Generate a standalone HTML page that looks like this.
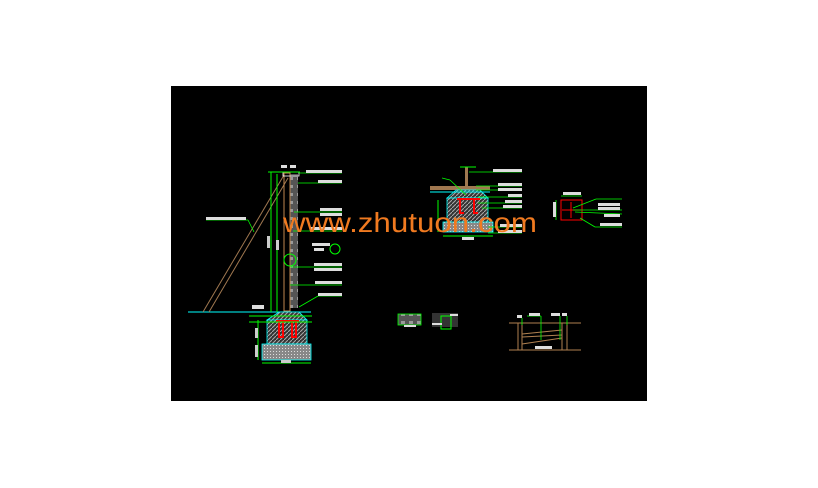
<!DOCTYPE html>
<html><head><meta charset="utf-8"><style>
html,body{margin:0;padding:0;background:#fff;width:818px;height:488px;overflow:hidden}
svg{display:block}
text{font-family:"Liberation Sans",sans-serif}
</style></head><body>
<svg width="818" height="488" viewBox="0 0 818 488" xmlns="http://www.w3.org/2000/svg">
<defs>
<pattern id="h" width="4" height="4" patternUnits="userSpaceOnUse"><rect width="4" height="4" fill="#333"/><path d="M0 4L4 0" stroke="#aaa" stroke-width="1"/></pattern>
<pattern id="g" width="3" height="3" patternUnits="userSpaceOnUse"><rect width="3" height="3" fill="#888"/><rect width="1" height="1" fill="#ddd"/></pattern>
<pattern id="w" width="8" height="8" patternUnits="userSpaceOnUse"><rect width="8" height="8" fill="#555"/><rect x="1" y="1" width="4" height="3" fill="#999"/></pattern>
</defs>
<rect x="171" y="86" width="476" height="315" fill="#000"/>

<!-- left section -->
<line x1="188" y1="312" x2="311" y2="312" stroke="#0ff" stroke-width="1"/>
<line x1="203" y1="312" x2="284" y2="175" stroke="#a07850" stroke-width="1"/>
<line x1="209" y1="312" x2="288" y2="178" stroke="#a07850" stroke-width="1"/>
<rect x="290" y="174" width="8" height="134" fill="url(#w)"/>
<rect x="284" y="173" width="6" height="138" fill="none" stroke="#c08850" stroke-width="1"/>
<rect x="283" y="172" width="16" height="4" fill="none" stroke="#fff" stroke-width="0.8"/>
<line x1="271" y1="172" x2="271" y2="312" stroke="#0f0" stroke-width="1"/>
<line x1="277" y1="174" x2="277" y2="312" stroke="#0f0" stroke-width="1"/>
<line x1="268" y1="172" x2="300" y2="172" stroke="#0f0"/>
<rect x="267" y="236" width="3" height="12" fill="#ccc"/>
<rect x="276" y="240" width="3" height="10" fill="#ccc"/>
<path d="M267 320 L279 312 L299 312 L307 320 Z" fill="url(#h)" stroke="#0ff" stroke-width="0.8"/>
<rect x="267" y="320" width="40" height="24" fill="url(#h)" stroke="#0ff" stroke-width="0.8"/>
<rect x="262" y="344" width="49" height="16" fill="url(#g)" stroke="#0ff" stroke-width="0.8"/>
<path d="M279 322 V337 H283 V322 M292 322 V337 H296 V322 M276 321 H299" stroke="#f00" stroke-width="2" fill="none"/>
<line x1="249" y1="316" x2="312" y2="316" stroke="#0f0"/>
<line x1="249" y1="322" x2="312" y2="322" stroke="#0f0"/>
<line x1="258" y1="320" x2="258" y2="360" stroke="#0f0"/>
<line x1="262" y1="363" x2="311" y2="363" stroke="#0f0"/>
<rect x="252" y="305" width="12" height="4" fill="#ddd"/>
<rect x="255" y="328" width="3" height="10" fill="#ccc"/>
<rect x="255" y="345" width="3" height="12" fill="#ccc"/>
<rect x="281" y="360" width="10" height="3" fill="#ccc"/>
<circle cx="290" cy="260" r="6" fill="none" stroke="#0f0"/>
<circle cx="335" cy="249" r="5" fill="none" stroke="#0f0"/>
<g stroke="#0f0" stroke-width="0.8">
<line x1="299" y1="173" x2="342" y2="173"/>
<line x1="298" y1="183" x2="342" y2="183"/>
<line x1="294" y1="212" x2="342" y2="212"/>
<line x1="293" y1="231" x2="342" y2="231"/>
<line x1="291" y1="267" x2="342" y2="267"/>
<line x1="290" y1="285" x2="342" y2="285"/>
<line x1="299" y1="307" x2="318" y2="296"/><line x1="318" y1="296" x2="342" y2="296"/>
<line x1="206" y1="220" x2="248" y2="220"/><line x1="248" y1="220" x2="254" y2="232"/>
</g>
<g fill="#ddd">
<rect x="306" y="170" width="36" height="3"/><rect x="318" y="180" width="24" height="3"/>
<rect x="320" y="208" width="22" height="3"/><rect x="320" y="213" width="22" height="3"/>
<rect x="310" y="227" width="32" height="3"/><rect x="312" y="243" width="18" height="3"/>
<rect x="314" y="248" width="10" height="3"/><rect x="314" y="263" width="28" height="3"/>
<rect x="314" y="268" width="28" height="3"/><rect x="315" y="281" width="27" height="3"/>
<rect x="318" y="293" width="24" height="3"/><rect x="206" y="217" width="40" height="3"/>
<rect x="281" y="165" width="6" height="3"/><rect x="290" y="165" width="6" height="3"/>
</g>

<!-- right detail -->
<rect x="430" y="186" width="60" height="4" fill="#a07850"/>
<rect x="465" y="167" width="3" height="24" fill="#a07850"/>
<line x1="460" y1="167" x2="476" y2="167" stroke="#0f0"/>
<path d="M447 198 L456 190 L480 190 L488 198 Z" fill="url(#h)" stroke="#0ff" stroke-width="0.8"/>
<rect x="447" y="198" width="41" height="26" fill="url(#h)" stroke="#0ff" stroke-width="0.8"/>
<rect x="443" y="222" width="50" height="10" fill="url(#g)" stroke="#0ff" stroke-width="0.8"/>
<path d="M460 200 V213 H464 M474 200 V213 H478 M457 199 H480" stroke="#f00" stroke-width="2" fill="none"/>
<line x1="430" y1="192" x2="490" y2="192" stroke="#0ff"/>
<line x1="443" y1="236" x2="493" y2="236" stroke="#0f0"/>
<line x1="438" y1="200" x2="438" y2="232" stroke="#0f0"/>
<g stroke="#0f0" stroke-width="0.8">
<line x1="469" y1="172" x2="522" y2="172"/>
<line x1="476" y1="186" x2="522" y2="186"/><line x1="476" y1="190" x2="522" y2="190"/>
<line x1="478" y1="197" x2="522" y2="197"/><line x1="478" y1="203" x2="522" y2="203"/>
<line x1="482" y1="208" x2="522" y2="208"/><line x1="488" y1="227" x2="522" y2="227"/>
<line x1="488" y1="233" x2="522" y2="233"/>
<line x1="442" y1="178" x2="450" y2="180"/><line x1="450" y1="180" x2="466" y2="195"/>
</g>
<g fill="#ddd">
<rect x="493" y="169" width="29" height="3"/><rect x="498" y="183" width="24" height="3"/>
<rect x="498" y="188" width="24" height="3"/><rect x="508" y="194" width="14" height="3"/>
<rect x="505" y="200" width="17" height="3"/><rect x="503" y="205" width="19" height="3"/>
<rect x="500" y="224" width="22" height="3"/><rect x="498" y="230" width="24" height="3"/>
<rect x="462" y="237" width="12" height="3"/>
</g>
<rect x="561" y="200" width="21" height="20" fill="none" stroke="#f00" stroke-width="1"/>
<line x1="571" y1="202" x2="571" y2="218" stroke="#f00"/>
<line x1="562" y1="210" x2="581" y2="210" stroke="#f00"/>
<g stroke="#0f0" stroke-width="0.8">
<line x1="561" y1="196" x2="582" y2="196"/><line x1="556" y1="200" x2="556" y2="220"/>
<line x1="573" y1="208" x2="596" y2="199"/><line x1="596" y1="199" x2="622" y2="199"/>
<line x1="573" y1="210" x2="622" y2="210"/><line x1="575" y1="212" x2="622" y2="214"/>
<line x1="580" y1="218" x2="595" y2="227"/><line x1="595" y1="227" x2="622" y2="227"/>
</g>
<g fill="#ddd">
<rect x="563" y="192" width="18" height="3"/><rect x="553" y="202" width="3" height="15"/>
<rect x="598" y="203" width="22" height="3"/><rect x="598" y="207" width="22" height="3"/>
<rect x="604" y="214" width="16" height="3"/><rect x="600" y="223" width="22" height="3"/>
</g>

<!-- bottom small details -->
<rect x="398" y="314" width="23" height="11" fill="url(#w)" stroke="#0f0" stroke-width="0.8"/>
<rect x="404" y="325" width="12" height="2" fill="#ddd"/>
<rect x="432" y="313" width="26" height="14" fill="#333"/>
<rect x="441" y="316" width="10" height="13" fill="none" stroke="#0f0"/>
<rect x="432" y="323" width="10" height="2" fill="#ddd"/><rect x="450" y="314" width="8" height="2" fill="#ddd"/>
<g stroke="#b08050" stroke-width="1" fill="none">
<line x1="509" y1="323" x2="581" y2="323"/><line x1="509" y1="350" x2="581" y2="350"/>
<line x1="518" y1="323" x2="518" y2="350"/><line x1="522" y1="323" x2="522" y2="350"/>
<line x1="562" y1="323" x2="562" y2="350"/><line x1="567" y1="323" x2="567" y2="350"/>
<line x1="522" y1="334" x2="562" y2="330"/><line x1="522" y1="344" x2="562" y2="338"/>
<line x1="522" y1="337" x2="562" y2="335"/>
</g>
<g stroke="#0f0" stroke-width="0.8">
<line x1="527" y1="316" x2="541" y2="316"/><line x1="541" y1="316" x2="541" y2="340"/>
<line x1="560" y1="316" x2="560" y2="340"/><line x1="567" y1="316" x2="567" y2="325"/>
<line x1="522" y1="318" x2="522" y2="325"/>
</g>
<g fill="#ddd">
<rect x="517" y="315" width="5" height="3"/><rect x="529" y="313" width="11" height="3"/>
<rect x="551" y="313" width="9" height="3"/><rect x="562" y="313" width="5" height="3"/>
<rect x="535" y="346" width="17" height="3"/>
</g>

<text x="283" y="232" font-family="Liberation Mono, monospace" font-size="28" fill="#f07a20" textLength="254" lengthAdjust="spacingAndGlyphs">www.zhutuon.com</text>
</svg>
</body></html>
